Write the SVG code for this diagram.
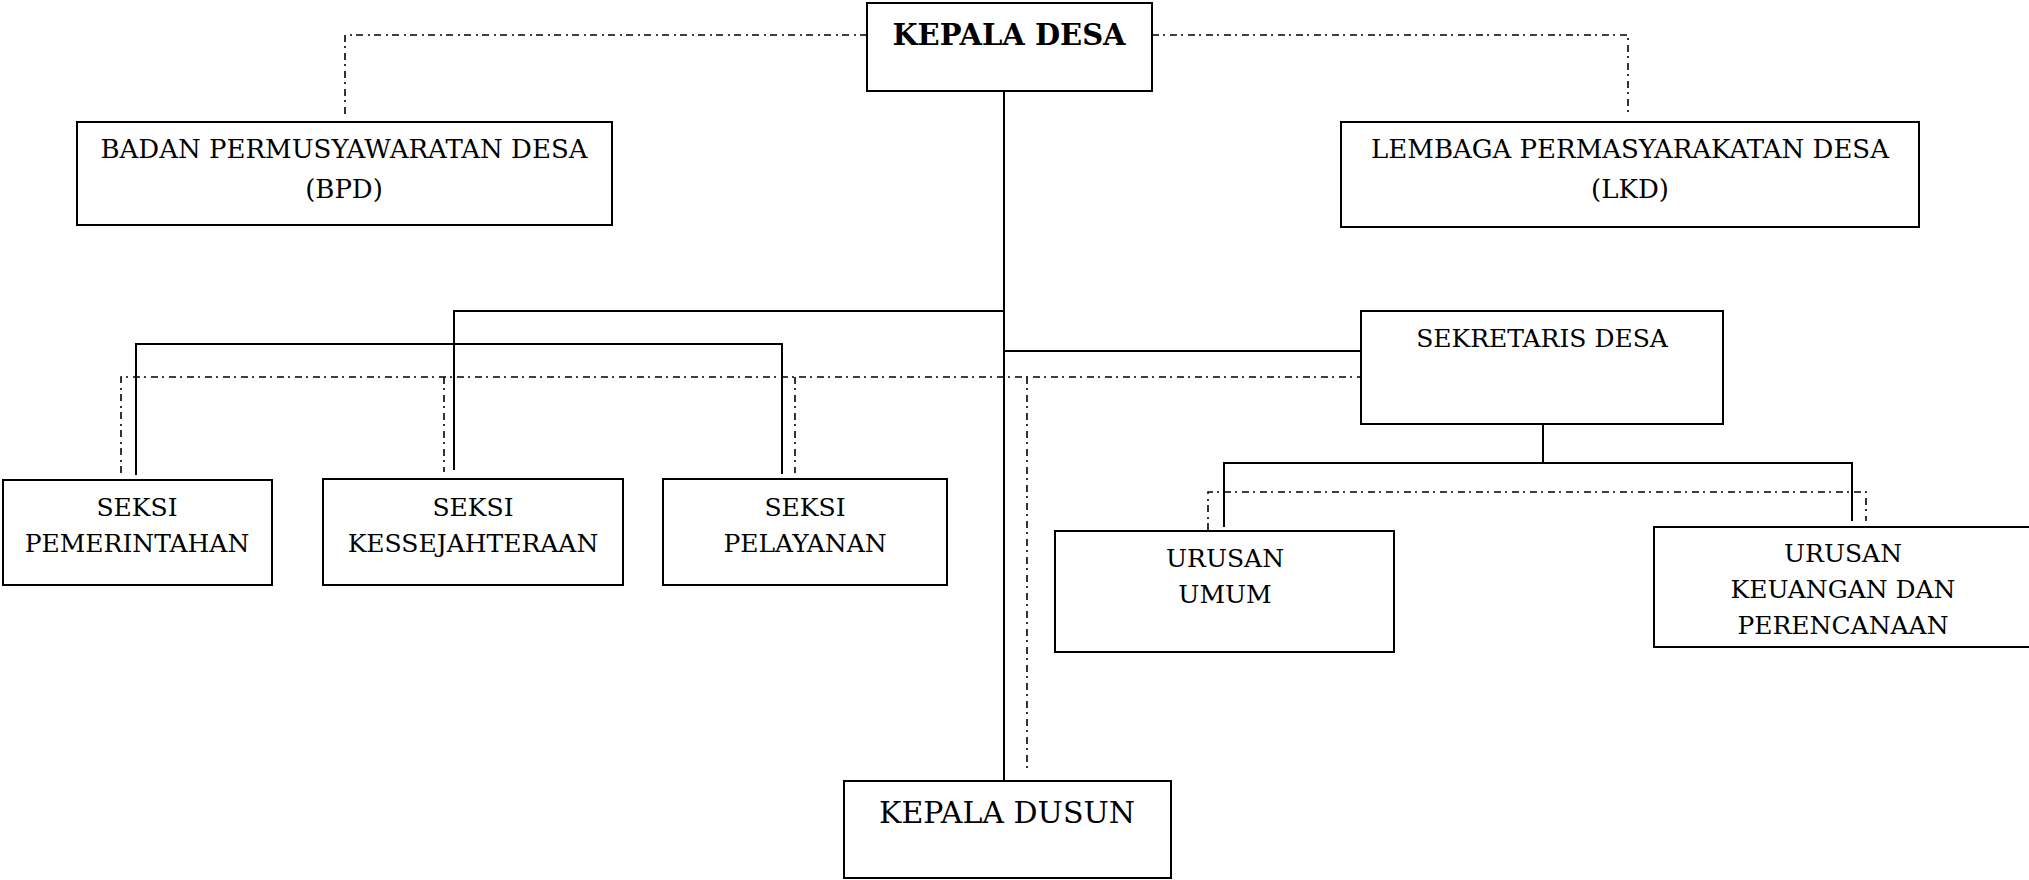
<svg xmlns="http://www.w3.org/2000/svg" width="2029" height="880" viewBox="0 0 2029 880">
<style>
.box{fill:#fff;stroke:#000;stroke-width:2}
.t{font-family:"DejaVu Serif",serif;font-size:25px;fill:#000;text-anchor:middle}
.w{font-size:26px}
.b{font-weight:bold;font-size:29px}
.big{font-size:30px}
.s{fill:none;stroke:#000;stroke-width:2}
.d{fill:none;stroke:#000;stroke-width:1.6;stroke-dasharray:7 4 2 5}
</style>
<rect width="2029" height="880" fill="#fff"/>
<g id="connectors">
<path class="d" d="M867 35H345V117"/>
<path class="d" d="M1152 35H1628V117"/>
<path class="s" d="M1004 91V781"/>
<path class="s" d="M1004 311H454V470"/>
<path class="s" d="M136 475V344H782V474"/>
<path class="s" d="M1004 351H1361"/>
<path class="d" d="M121 473V377H1361"/>
<path class="d" d="M444 377V472"/>
<path class="d" d="M795 377V473"/>
<path class="d" d="M1027 377V773"/>
<path class="s" d="M1543 424V463"/>
<path class="s" d="M1224 527V463H1852V521"/>
<path class="d" d="M1208 530V492H1866V521"/>
</g>
<g id="kepala-desa">
<rect class="box" x="867" y="3" width="285" height="88"/>
<text class="t b" x="1009" y="45">KEPALA DESA</text>
</g>
<g id="bpd">
<rect class="box" x="77" y="122" width="535" height="103"/>
<text class="t w" x="344" y="158">BADAN PERMUSYAWARATAN DESA</text>
<text class="t w" x="344" y="198">(BPD)</text>
</g>
<g id="lkd">
<rect class="box" x="1341" y="122" width="578" height="105"/>
<text class="t w" x="1630" y="158">LEMBAGA PERMASYARAKATAN DESA</text>
<text class="t w" x="1630" y="198">(LKD)</text>
</g>
<g id="sekretaris-desa">
<rect class="box" x="1361" y="311" width="362" height="113"/>
<text class="t" x="1542" y="347">SEKRETARIS DESA</text>
</g>
<g id="seksi-pemerintahan">
<rect class="box" x="3" y="480" width="269" height="105"/>
<text class="t" x="137" y="516">SEKSI</text>
<text class="t" x="137" y="552">PEMERINTAHAN</text>
</g>
<g id="seksi-kessejahteraan">
<rect class="box" x="323" y="479" width="300" height="106"/>
<text class="t" x="473" y="516">SEKSI</text>
<text class="t" x="473" y="552">KESSEJAHTERAAN</text>
</g>
<g id="seksi-pelayanan">
<rect class="box" x="663" y="479" width="284" height="106"/>
<text class="t" x="805" y="516">SEKSI</text>
<text class="t" x="805" y="552">PELAYANAN</text>
</g>
<g id="urusan-umum">
<rect class="box" x="1055" y="531" width="339" height="121"/>
<text class="t" x="1225" y="567">URUSAN</text>
<text class="t" x="1225" y="603">UMUM</text>
</g>
<g id="urusan-keuangan">
<rect class="box" x="1654" y="527" width="380" height="120"/>
<text class="t" x="1843" y="562">URUSAN</text>
<text class="t" x="1843" y="598">KEUANGAN DAN</text>
<text class="t" x="1843" y="634">PERENCANAAN</text>
</g>
<g id="kepala-dusun">
<rect class="box" x="844" y="781" width="327" height="97"/>
<text class="t big" x="1007" y="823">KEPALA DUSUN</text>
</g>
</svg>
